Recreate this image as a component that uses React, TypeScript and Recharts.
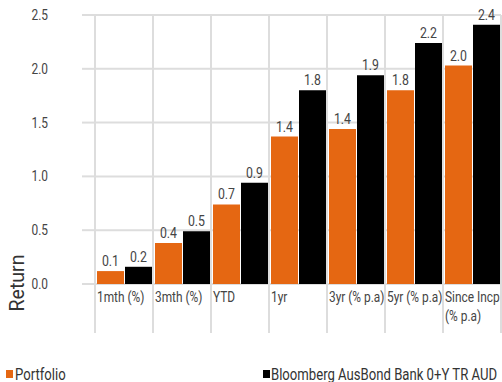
import React from "react";
import {
  BarChart,
  Bar,
  CartesianGrid,
  XAxis,
  YAxis,
  LabelList,
} from "recharts";

const categories = [
  "1mth (%)",
  "3mth (%)",
  "YTD",
  "1yr",
  "3yr (% p.a)",
  "5yr (% p.a)",
  "Since Incp (% p.a)",
];
const portfolio = [0.12, 0.38, 0.74, 1.37, 1.44, 1.8, 2.03];
const benchmark = [0.16, 0.49, 0.94, 1.8, 1.94, 2.24, 2.41];
const yTicks = [0, 0.5, 1.0, 1.5, 2.0, 2.5];

const chartData = categories.map((name, i) => ({
  name,
  portfolio: portfolio[i],
  benchmark: benchmark[i],
}));

const FONT = "Roboto, sans-serif";
const SQUEEZE = 0.85; // fake a condensed face
const ORANGE = "#e56712";
const GRID = "#dddddd";

const wrapLabel = (s: string) =>
  s.length > 12 && s.includes(" (") ? [s.slice(0, s.indexOf(" (")), s.slice(s.indexOf(" (") + 1)] : [s];

// text squeezed horizontally around its own x
const Cond = ({ x, y, size, anchor = "start", fill = "#444", children, dy }: any) => (
  <g transform={`translate(${x},${y}) scale(${SQUEEZE},1)`}>
    <text x={0} y={0} dy={dy} textAnchor={anchor} fill={fill} fontSize={size} fontFamily={FONT}>
      {children}
    </text>
  </g>
);

const CategoryTick = (props: any) => {
  const { x, y, payload, index } = props;
  const half = payload.offset || 29;
  const left = x - half;
  const lines = wrapLabel(payload.value);
  return (
    <g>
      <line x1={left} x2={left} y1={y} y2={y + 49} stroke={GRID} strokeWidth={2} />
      {index === categories.length - 1 && (
        <line x1={x + half} x2={x + half} y1={y} y2={y + 49} stroke={GRID} strokeWidth={2} />
      )}
      {lines.map((l, i) => (
        <Cond key={i} x={left + 2} y={y + 17.5 + i * 19} size={14}>
          {l}
        </Cond>
      ))}
    </g>
  );
};

const ValueTick = (props: any) => {
  const { x, y, payload } = props;
  return (
    <Cond x={x} y={y} size={14} anchor="end" dy="0.36em">
      {Number(payload.value).toFixed(1)}
    </Cond>
  );
};

const BarValue = (props: any) => {
  const { x, y, width, value } = props;
  return (
    <Cond x={x + width / 2} y={y - 5} size={14.5} anchor="middle">
      {Number(value).toFixed(1)}
    </Cond>
  );
};

const ReturnLabel = (props: any) => {
  const vb = props.viewBox || { x: 0, y: 0, width: 0, height: 0 };
  const cx = vb.x + 17;
  const cy = vb.y + vb.height - 1;
  return (
    <g transform={`translate(${cx},${cy}) rotate(-90) scale(0.93,1)`}>
      <text x={0} y={0} textAnchor="middle" dominantBaseline="central" fill="#333" fontSize={21} fontFamily={FONT}>
        Return
      </text>
    </g>
  );
};

function App() {
  const legendText: React.CSSProperties = {
    position: "absolute",
    top: 1,
    display: "inline-block",
    transform: "scaleX(0.82)",
    transformOrigin: "left center",
  };
  return (
    <div
      style={{
        position: "absolute",
        left: 0,
        top: 0,
        width: 502,
        height: 382,
        background: "#fff",
        overflow: "hidden",
      }}
    >
      <BarChart
        width={502}
        height={382}
        data={chartData}
        margin={{ top: 15, right: 1, left: 0, bottom: 0 }}
        barCategoryGap={2}
        barGap={1}
      >
        <CartesianGrid
          stroke={GRID}
          strokeWidth={2}
          verticalCoordinatesGenerator={({ offset }: any) =>
            categories
              .map((_, i) => offset.left + (i * offset.width) / categories.length)
              .concat([offset.left + offset.width])
          }
        />
        <XAxis
          dataKey="name"
          interval={0}
          axisLine={false}
          tickLine={false}
          tickSize={0}
          tickMargin={0}
          height={98}
          tick={<CategoryTick />}
        />
        <YAxis
          width={95}
          domain={[0, 2.5]}
          ticks={yTicks}
          axisLine={false}
          tickSize={13}
          tickMargin={34}
          tickLine={{ stroke: GRID, strokeWidth: 2 }}
          tick={<ValueTick />}
          label={<ReturnLabel />}
        />
        <Bar dataKey="portfolio" fill={ORANGE} isAnimationActive={false}>
          <LabelList dataKey="portfolio" content={<BarValue />} />
        </Bar>
        <Bar dataKey="benchmark" fill="#000" isAnimationActive={false}>
          <LabelList dataKey="benchmark" content={<BarValue />} />
        </Bar>
      </BarChart>
      <div
        style={{
          position: "absolute",
          left: 0,
          top: 364,
          width: 502,
          fontFamily: FONT,
          fontSize: 16,
          color: "#333",
          lineHeight: "20px",
          whiteSpace: "nowrap",
        }}
      >
        <span style={{ position: "absolute", left: 6, top: 6, width: 7, height: 8, background: ORANGE }} />
        <span style={{ ...legendText, left: 15 }}>Portfolio</span>
        <span style={{ position: "absolute", left: 263, top: 6, width: 7, height: 8, background: "#000" }} />
        <span style={{ ...legendText, left: 271 }}>Bloomberg AusBond Bank 0+Y TR AUD</span>
      </div>
    </div>
  );
}

export default App;
